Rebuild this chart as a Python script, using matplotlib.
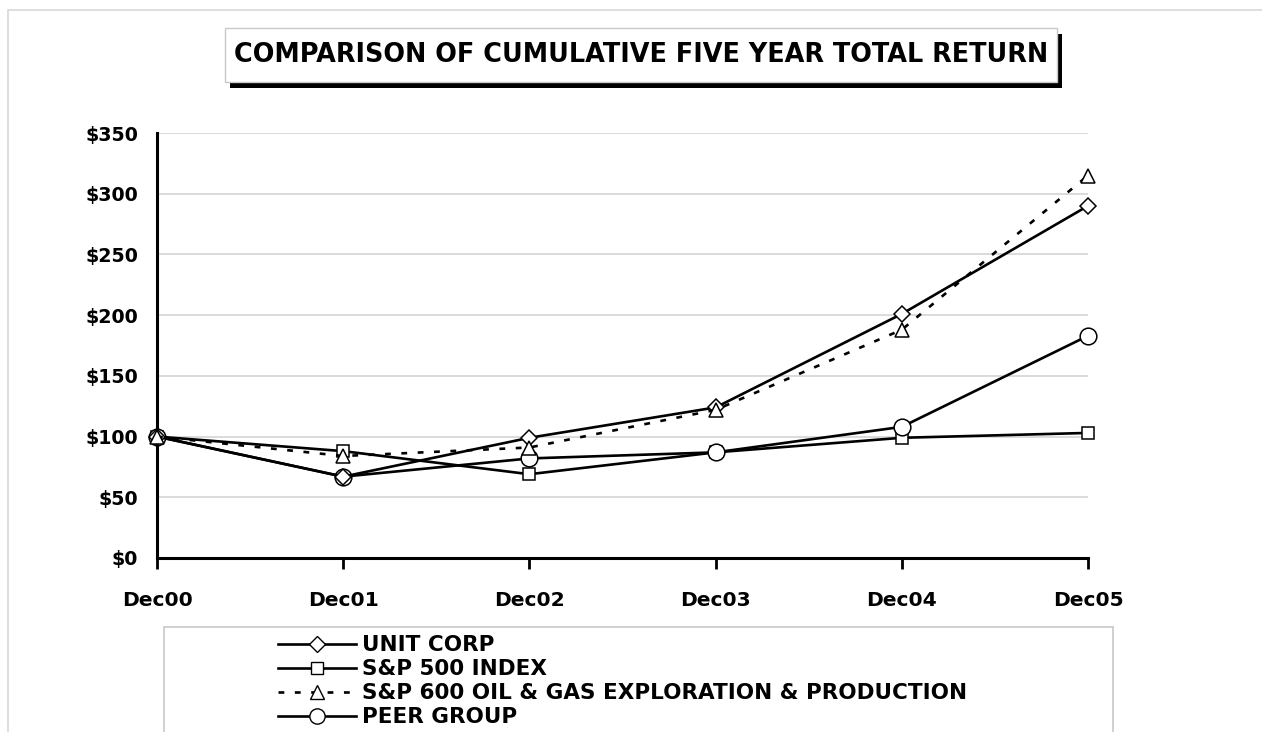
import matplotlib
matplotlib.use("Agg")
import matplotlib.pyplot as plt
from matplotlib.patches import Rectangle
from matplotlib.lines import Line2D

years = ["Dec00", "Dec01", "Dec02", "Dec03", "Dec04", "Dec05"]
unit_corp = [100, 67, 99, 124, 201, 290]
sp500 = [100, 88, 69, 87, 99, 103]
sp600_oil_gas = [100, 84, 91, 122, 188, 315]
peer_group = [100, 67, 82, 87, 108, 183]
y_ticks = [0, 50, 100, 150, 200, 250, 300, 350]
series_labels = ["UNIT CORP", "S&P 500 INDEX",
                 "S&P 600 OIL & GAS EXPLORATION & PRODUCTION", "PEER GROUP"]

plt.rcParams['font.family'] = ['DejaVu Sans']
plt.rcParams['font.weight'] = 'bold'

W, H = 1262, 732
fig = plt.figure(figsize=(W / 100, H / 100), dpi=100)

def fx(px):
    return px / W

def fy(py):
    return 1 - py / H

# outer faint frame
fig.patches.append(Rectangle((fx(8), fy(740)), fx(1300), fy(10) - fy(740),
                             transform=fig.transFigure, fill=False,
                             edgecolor="#d8d8d8", linewidth=1.2))

ax = fig.add_axes([fx(157), fy(558), fx(1088) - fx(157), fy(133) - fy(558)])
x = list(range(len(years)))

lw = 1.9
dash = (0, (2.2, 4.0))
ax.plot(x, unit_corp, color="black", lw=lw, marker="D", ms=8,
        mfc="white", mec="black", mew=1.1, zorder=4, clip_on=False)
ax.plot(x, sp500, color="black", lw=lw, marker="s", ms=9,
        mfc="white", mec="black", mew=1.1, zorder=3, clip_on=False)
ax.plot(x, sp600_oil_gas, color="black", lw=lw, ls=dash, marker="^", ms=10,
        mfc="white", mec="black", mew=1.1, zorder=5, clip_on=False)
ax.plot(x, peer_group, color="black", lw=lw, marker="o", ms=12,
        mfc="white", mec="black", mew=1.1, zorder=3, clip_on=False)

ax.set_xlim(0, 5)
ax.set_ylim(0, 350)
ax.set_yticks(y_ticks)
ax.set_yticklabels([f"${v}" for v in y_ticks], fontsize=13.7, fontweight="bold")
ax.set_xticks(x)
ax.set_xticklabels(years, fontsize=14.6, fontweight="bold")
ax.yaxis.grid(True, color="#d4d4d4", lw=1.2)
ax.set_axisbelow(True)
for s in ["top", "right"]:
    ax.spines[s].set_visible(False)
ax.spines["left"].set_linewidth(2.2)
ax.spines["bottom"].set_linewidth(2.2)
ax.tick_params(axis="x", direction="out", length=8, width=2, pad=16)
ax.tick_params(axis="y", direction="out", length=0, pad=13.5)

# title box with shadow
tx0, tx1, ty0, ty1 = 225, 1057, 28, 82
fig.patches.append(Rectangle((fx(tx0 + 5), fy(ty1 + 6)), fx(tx1 - tx0), fy(ty0) - fy(ty1),
                             transform=fig.transFigure, facecolor="black", edgecolor="none"))
fig.patches.append(Rectangle((fx(tx0), fy(ty1)), fx(tx1 - tx0), fy(ty0) - fy(ty1),
                             transform=fig.transFigure, facecolor="white", edgecolor="#c8c8c8", lw=1))
fig.text(fx(641), fy(55), "COMPARISON OF CUMULATIVE FIVE YEAR TOTAL RETURN",
         ha="center", va="center", fontsize=18.4, fontweight="bold")

# legend box
fig.patches.append(Rectangle((fx(164), fy(760)), fx(1113 - 164), fy(627) - fy(760),
                             transform=fig.transFigure, facecolor="white",
                             edgecolor="#c8c8c8", lw=1.2))
handles = [
    Line2D([], [], color="black", lw=lw, marker="D", ms=8, mfc="white", mec="black"),
    Line2D([], [], color="black", lw=lw, marker="s", ms=9, mfc="white", mec="black"),
    Line2D([], [], color="black", lw=lw, ls=dash, marker="^", ms=10, mfc="white", mec="black"),
    Line2D([], [], color="black", lw=lw, marker="o", ms=11, mfc="white", mec="black"),
]
fig.legend(handles, series_labels, loc="upper left",
           bbox_to_anchor=(fx(261), fy(618)), frameon=False,
           prop={"size": 15.5, "weight": "bold"}, handlelength=3.6,
           handletextpad=0.3, labelspacing=0.19, borderpad=0.3)

fig.savefig("out.png", dpi=100)
